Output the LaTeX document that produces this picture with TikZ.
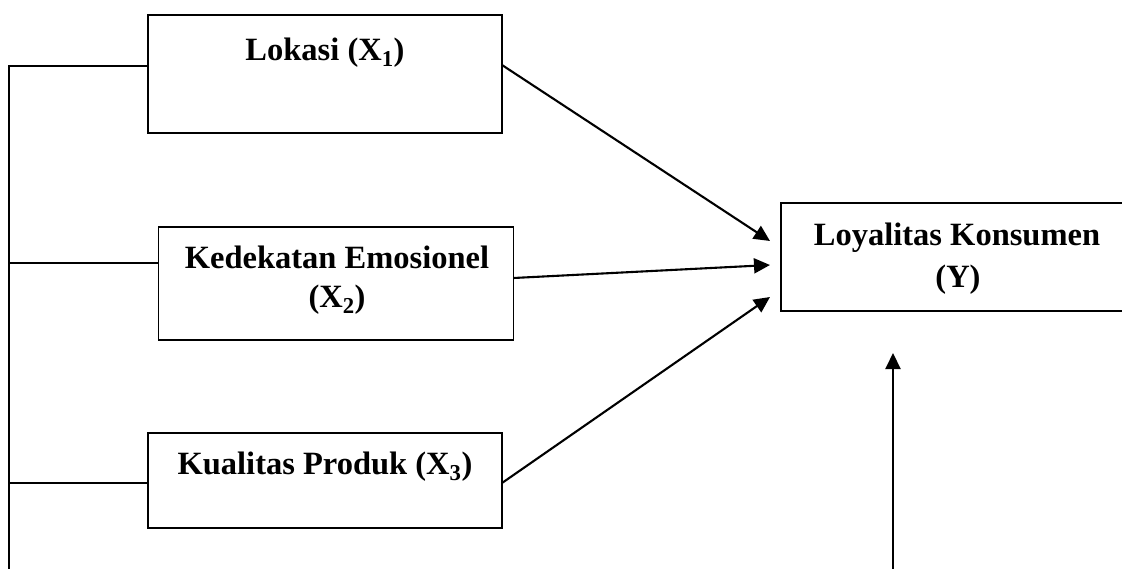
\documentclass[tikz,border=0pt]{standalone}
\usepackage{fontspec}
\setmainfont{Liberation Serif}
\usetikzlibrary{arrows.meta}
\begin{document}
\begin{tikzpicture}[x=1pt,y=-1pt,
  box/.style={draw, line width=1.8pt, inner sep=0pt, outer sep=0pt},
  lbl/.style={anchor=base, inner sep=0pt, font=\fontsize{32.5}{38}\selectfont\bfseries},
  link/.style={line width=1.8pt},
  arr/.style={line width=2.1pt, -{Triangle[length=16pt,width=15pt]}}]
\useasboundingbox (0,0) rectangle (1122,568);

% boxes
\node[box, minimum width=354pt, minimum height=118pt] (x1) at (325,74) {};
\node[box, minimum width=355pt, minimum height=113pt] (x2) at (336,283.5) {};
\node[box, minimum width=354pt, minimum height=95pt] (x3) at (325,480.5) {};
\node[box, minimum width=350pt, minimum height=108pt] (y) at (956,257) {};

% texts
\node[lbl] (l1) at (325,60) {Lokasi (X\textsubscript{1})};
\node[lbl] (l2a) at (337,268) {Kedekatan Emosionel};
\node[lbl] (l2b) at (337,307) {(X\textsubscript{2})};
\node[lbl] (l3) at (325,474) {Kualitas Produk (X\textsubscript{3})};
\node[lbl] (l4a) at (957,245) {Loyalitas Konsumen};
\node[lbl] (l4b) at (958,287) {(Y)};

% left trunk
\coordinate (t1) at (9,66);
\coordinate (t2) at (9,263);
\coordinate (t3) at (9,483);
\coordinate (tb) at (9,572);
\draw[link] (t1 -| x1.west) -- (t1) -- (tb);
\draw[link] (t2) -- (t2 -| x2.west);
\draw[link] (t3) -- (t3 -| x3.west);

% arrows into Y
\draw[arr] ([yshift=-50pt]x1.north east) -- ([xshift=-11pt,yshift=-38pt]y.north west);
\draw[arr] ([yshift=-51pt]x2.north east) -- ([xshift=-11pt,yshift=-62pt]y.north west);
\draw[arr] ([yshift=-50pt]x3.north east) -- ([xshift=-11pt,yshift=-94pt]y.north west);

% bottom arrow
\coordinate (ub) at (893,572);
\coordinate (ut) at (893,353);
\draw[arr] (ub) -- (ut);
\end{tikzpicture}
\end{document}
